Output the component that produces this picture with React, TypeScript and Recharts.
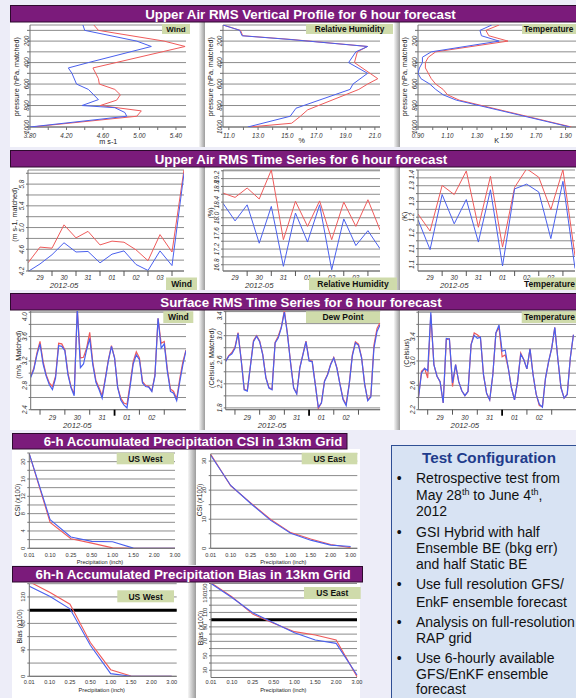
import React from 'react';
import { LineChart, Line, XAxis, YAxis, CartesianGrid, ScatterChart, Scatter, ReferenceLine } from 'recharts';

const FONT = '"Liberation Sans", Arial, sans-serif';
const RED = '#ef5b5b';
const BLUE = '#4a60ee';
const GRID = '#8c8c8c';
const AXIS = '#707070';
const TXT = '#333';
const PURPLE = '#7b1b7b';
const TAGBG = '#cfdbab';
const BG = '#ededf8';

// ---------------- data: vertical profiles (pressure hPa / RMS) ----------------
const profYTicks = [100, 200, 300, 400, 500, 600, 700, 800, 900, 1000];
const profYLabels = [200, 400, 600, 800, 1000];
const profYText = ['200', '400', '600', '800', '1000'];

const windProfRedP = [50, 100, 200, 250, 450, 550, 600, 650, 700, 750, 800, 850, 900, 1000];
const windProfRedV = [4.5, 4.55, 5.27, 5.5, 4.49, 4.55, 4.56, 4.73, 4.79, 4.75, 4.57, 5.02, 4.97, 3.82];
const windProfBlueP = [50, 100, 200, 250, 400, 450, 500, 600, 650, 745, 800, 820, 865, 900, 1000];
const windProfBlueV = [4.38, 4.4, 4.97, 5.13, 4.44, 4.22, 4.26, 4.31, 4.44, 4.55, 4.37, 4.73, 4.84, 4.86, 3.8];
const windProfXTicks = [3.8, 4.0, 4.2, 4.4, 4.6, 4.8, 5.0, 5.2, 5.4];
const windProfXLabels = [3.8, 4.2, 4.6, 5.0, 5.4];
const windProfXText = ['3.80', '4.20', '4.60', '5.00', '5.40'];

const rhProfRedP = [50, 100, 150, 185, 250, 300, 400, 550, 600, 650, 840, 900, 965, 1000];
const rhProfRedV = [10.6, 11.8, 11.95, 15.3, 20.5, 19.8, 19.6, 21.2, 20.5, 19.9, 16.4, 15.9, 15.3, 12.4];
const rhProfBlueP = [50, 100, 150, 185, 250, 300, 400, 500, 600, 650, 825, 900, 1000];
const rhProfBlueV = [10.6, 11.75, 11.9, 15.2, 20.5, 19.7, 19.2, 20.5, 19.5, 19.3, 15.6, 15.2, 12.3];
const rhProfXTicks = [11, 12, 13, 14, 15, 16, 17, 18, 19, 20, 21];
const rhProfXLabels = [11, 13, 15, 17, 19, 21];
const rhProfXText = ['11.0', '13.0', '15.0', '17.0', '19.0', '21.0'];

const tProfRedP = [50, 100, 150, 200, 300, 350, 400, 450, 550, 600, 650, 700, 750, 1000];
const tProfRedV = [1.45, 1.36, 1.38, 1.51, 1.02, 0.97, 0.95, 0.95, 0.99, 1.02, 1.07, 1.1, 1.18, 1.94];
const tProfBlueP = [50, 100, 150, 200, 300, 350, 400, 450, 500, 550, 600, 650, 700, 750, 1000];
const tProfBlueV = [1.4, 1.32, 1.33, 1.45, 0.99, 0.93, 0.93, 0.91, 0.9, 0.92, 0.98, 1.02, 1.07, 1.16, 1.93];
const tProfXTicks = [0.9, 1.0, 1.1, 1.2, 1.3, 1.4, 1.5, 1.6, 1.7, 1.8, 1.9];
const tProfXLabels = [0.9, 1.1, 1.3, 1.5, 1.7, 1.9];
const tProfXText = ['0.90', '1.10', '1.30', '1.50', '1.70', '1.90'];

// ---------------- data: upper air time series (hours since 2012-05-29 00Z) ----------------
const uaHours = [0, 12, 24, 36, 48, 60, 72, 84, 96, 108, 120, 132, 144, 156];
const uaTickMarks = [24, 48, 72, 96, 120, 144];
const uaLabelAt = [12, 36, 60, 84, 108, 132];
const uaDayText = ['29', '30', '31', '01', '02', '03'];
const monthText = '2012-05';

const windTsRed = [4.35, 4.64, 4.62, 5.05, 4.81, 4.93, 4.68, 4.75, 4.73, 4.59, 4.39, 4.87, 4.55, 6.07];
const windTsBlue = [4.19, 4.33, 4.5, 4.72, 4.55, 4.56, 4.35, 4.51, 4.57, 4.32, 4.21, 4.57, 4.3, 6.0];
const windTsYTicks = [4.2, 4.4, 4.6, 4.8, 5.0, 5.2, 5.4, 5.6, 5.8, 6.0];
const windTsYLabels = [4.2, 4.6, 5.0, 5.4, 5.8];
const windTsYText = ['4.2', '4.6', '5.0', '5.4', '5.8'];

const rhTsRed = [18.63, 18.52, 18.76, 18.48, 19.22, 17.44, 18.42, 17.78, 18.43, 17.44, 18.4, 17.78, 18.46, 17.69];
const rhTsBlue = [18.37, 17.92, 18.33, 17.35, 18.29, 16.76, 18.12, 17.38, 18.33, 16.67, 17.97, 17.29, 17.67, 17.21];
const rhTsYTicks = [16.8, 17.0, 17.2, 17.4, 17.6, 17.8, 18.0, 18.2, 18.4, 18.6, 18.8, 19.0, 19.2];
const rhTsYLabels = [16.8, 17.2, 17.6, 18.0, 18.4, 18.8, 19.2];
const rhTsYText = ['16.8', '17.2', '17.6', '18.0', '18.4', '18.8', '19.2'];

const tTsRed = [1.26, 1.206, 1.351, 1.322, 1.397, 1.218, 1.38, 1.155, 1.345, 1.404, 1.377, 1.274, 1.401, 1.127];
const tTsBlue = [1.242, 1.147, 1.322, 1.229, 1.306, 1.171, 1.337, 1.095, 1.34, 1.355, 1.33, 1.182, 1.364, 1.087];
const tTsYTicks = [1.1, 1.125, 1.15, 1.175, 1.2, 1.225, 1.25, 1.275, 1.3, 1.325, 1.35, 1.375, 1.4];
const tTsYLabels = [1.1, 1.15, 1.2, 1.25, 1.3, 1.35, 1.4];
const tTsYText = ['1.1', '1.1', '1.2', '1.2', '1.3', '1.3', '1.4'];

// ---------------- data: surface time series (hours since 2012-05-28 00Z, 3-hourly) ----------------
const sfcHours = [15, 18, 21, 24, 27, 30, 33, 36, 39, 42, 45, 48, 51, 54, 57, 60, 63, 66, 69, 72, 75, 78, 81, 84, 87, 90, 93, 96, 99, 102, 105, 108, 111, 114, 117, 120, 123, 126, 129, 132, 135, 138, 141, 144, 147, 150, 153, 156, 159, 162, 165];
const sfcTickMarks = [24, 48, 72, 96, 120, 144];
const sfcBoldMarks = [96];
const sfcLabelAt = [36, 60, 84, 108, 132];
const sfcDayText = ['29', '30', '31', '01', '02'];

const sfcWindRed = [2.95, 3.08, 3.33, 3.52, 3.19, 2.97, 2.84, 2.78, 2.95, 3.49, 3.48, 3.38, 3.0, 2.77, 2.66, 4.04, 3.25, 3.26, 3.41, 3.67, 3.17, 2.88, 2.76, 2.63, 2.91, 3.22, 3.45, 3.25, 2.77, 2.59, 2.51, 2.49, 2.82, 3.19, 3.35, 3.25, 2.86, 2.8, 2.78, 2.71, 2.97, 3.9, 3.49, 3.52, 3.06, 2.74, 2.7, 2.58, 2.91, 3.19, 3.38];
const sfcWindBlue = [2.93, 3.06, 3.3, 3.48, 3.15, 2.95, 2.81, 2.73, 2.92, 3.45, 3.44, 3.37, 2.97, 2.76, 2.63, 4.07, 3.09, 3.15, 3.38, 3.57, 3.14, 2.85, 2.73, 2.59, 2.89, 3.2, 3.44, 3.25, 2.76, 2.56, 2.48, 2.43, 2.78, 3.15, 3.3, 3.22, 2.84, 2.78, 2.77, 2.7, 2.95, 3.9, 3.41, 3.48, 3.03, 2.7, 2.67, 2.55, 2.86, 3.14, 3.37];
const sfcWindYTicks = [2.4, 2.6, 2.8, 3.0, 3.2, 3.4, 3.6, 3.8, 4.0];
const sfcWindYLabels = [2.4, 2.8, 3.2, 3.6, 4.0];
const sfcWindYText = ['2.4', '2.8', '3.2', '3.6', '4.0'];

const dewRed = [2.58, 2.67, 2.72, 2.81, 3.05, 2.61, 2.11, 2.09, 2.5, 2.92, 3.0, 2.91, 2.69, 2.31, 2.14, 2.11, 2.89, 2.99, 3.14, 3.42, 3.03, 2.56, 2.14, 2.04, 2.47, 2.69, 2.91, 2.59, 2.58, 2.2, 1.79, 1.89, 2.25, 2.36, 2.53, 2.64, 2.47, 2.2, 1.95, 1.86, 2.2, 2.68, 2.9, 2.86, 2.64, 2.2, 1.93, 2.0, 2.84, 3.12, 3.22];
const dewBlue = [2.57, 2.66, 2.7, 2.79, 3.04, 2.6, 2.1, 2.08, 2.49, 2.9, 2.99, 2.9, 2.68, 2.3, 2.13, 2.1, 2.88, 2.96, 3.13, 3.39, 3.02, 2.55, 2.13, 2.03, 2.46, 2.68, 2.9, 2.58, 2.57, 2.19, 1.81, 1.88, 2.24, 2.35, 2.52, 2.63, 2.46, 2.19, 1.94, 1.84, 2.19, 2.66, 2.88, 2.84, 2.63, 2.19, 1.92, 1.98, 2.79, 3.07, 3.18];
const dewYTicks = [1.8, 2.0, 2.2, 2.4, 2.6, 2.8, 3.0, 3.2, 3.4];
const dewYLabels = [1.8, 2.2, 2.6, 3.0, 3.4];
const dewYText = ['1.8', '2.2', '2.6', '3.0', '3.4'];

const sfcTRed = [2.39, 2.83, 2.88, 2.72, 3.76, 2.94, 2.75, 2.66, 2.31, 3.35, 3.36, 2.58, 2.94, 2.66, 2.51, 2.43, 2.5, 3.27, 3.46, 3.43, 3.39, 2.77, 2.47, 2.36, 2.77, 3.46, 3.55, 3.07, 3.1, 2.88, 2.56, 2.36, 2.66, 3.13, 3.02, 2.87, 3.2, 2.77, 2.45, 2.27, 2.25, 2.72, 2.99, 3.21, 3.55, 3.02, 2.56, 2.39, 2.45, 3.05, 3.43];
const sfcTBlue = [2.39, 2.8, 2.88, 2.84, 3.8, 2.94, 2.75, 2.66, 2.31, 3.37, 3.36, 2.64, 2.94, 2.66, 2.51, 2.43, 2.5, 3.27, 3.42, 3.37, 3.39, 2.77, 2.47, 2.36, 2.77, 3.46, 3.59, 3.16, 3.18, 2.88, 2.56, 2.36, 2.66, 3.11, 3.02, 2.87, 3.2, 2.77, 2.45, 2.29, 2.24, 2.72, 2.99, 3.21, 3.55, 3.02, 2.56, 2.39, 2.45, 3.05, 3.43];
const sfcTYTicks = [2.2, 2.4, 2.6, 2.8, 3.0, 3.2, 3.4, 3.6, 3.8];
const sfcTYLabels = [2.2, 2.6, 3.0, 3.4];
const sfcTYText = ['2.2', '2.6', '3.0', '3.4'];

// ---------------- data: precipitation scores ----------------
const precipCats = ['0.01', '0.10', '0.25', '0.50', '1.00', '1.50', '2.00', '3.00'];
const csiWestRed = [21.8, 6.0, 2.2, 1.2, 0.1, 0, 0, 0];
const csiWestBlue = [21.8, 6.6, 2.6, 1.6, 1.5, 0.05, 0, 0];
const csiEastRed = [32.3, 21.5, 15.6, 9.9, 5.4, 3.2, 1.3, 0.2];
const csiEastBlue = [32.0, 21.6, 15.4, 9.6, 5.2, 2.8, 1.1, 0.6];
const biasWestRed = [143, 127, 109, 51, 10, 0.5, 0, 0];
const biasWestBlue = [136, 121, 102, 47, 4, 0, 0, 0];
const biasEastRed = [151, 131.7, 107.7, 94.9, 83.4, 78.7, 71.8, 21.2];
const biasEastBlue = [150, 130.6, 109.5, 95.7, 81.9, 71.8, 67.2, 23.5];

const csiWestYTicks = [0, 2, 4, 6, 8, 10, 12, 14, 16, 18, 20, 22];
const csiWestYLabels = [0, 4, 8, 12, 16, 20];
const csiEastYTicks = [0, 5, 10, 15, 20, 25, 30];
const csiEastYLabels = [0, 10, 20, 30];
const biasWestYTicks = [0, 20, 40, 60, 80, 100, 120, 140];
const biasWestYLabels = [0, 40, 80, 120];
const biasEastYTicks = [30, 40, 50, 60, 70, 80, 90, 100, 110, 120, 130, 140, 150];
const biasEastYLabels = [30, 50, 70, 90, 110, 130, 150];
const perfectBias = 100;

// ---------------- helpers ----------------
const pairs = (ps: number[], vs: number[]) => ps.map((p, i) => ({ p, v: vs[i] }));
const rows = (ts: number[], r: number[], b: number[]) => ts.map((t, i) => ({ t, r: r[i], b: b[i] }));
const catRows = (r: number[], b: number[]) => precipCats.map((c, i) => ({ c, r: r[i], b: b[i] }));
const idx = (arr: number[], v: number) => arr.findIndex((a) => Math.abs(a - v) < 1e-6);

type Box = { x: number; y: number; w: number; h: number };
type Plot = { x0: number; y0: number; x1: number; y1: number };
function geom(b: Box, p: Plot) {
  return {
    style: { position: 'absolute', left: b.x, top: b.y } as React.CSSProperties,
    width: b.w,
    height: b.h,
    margin: { top: p.y0 - b.y, right: b.x + b.w - p.x1, left: 0, bottom: 0 },
    yw: p.x0 - b.x,
    xh: b.y + b.h - p.y1,
  };
}

// endVals: labels at the very top edge, anchored so they stay inside the plot
function makeYTick(labels: number[], texts: string[], off: number, size: number, italic = true, endVals: number[] = []) {
  return (p: any) => {
    const i = idx(labels, p.payload.value);
    if (i < 0) return <g />;
    const x = p.x + off;
    const y = p.y;
    const atTop = idx(endVals, p.payload.value) >= 0;
    return (
      <text x={x} y={y} transform={`rotate(-90 ${x} ${y})`} textAnchor={atTop ? 'end' : 'middle'} fontSize={size}
        fontStyle={italic ? 'italic' : 'normal'} fill={TXT} fontFamily={FONT}>{texts[i]}</text>
    );
  };
}

function makeXTick(labels: number[], texts: string[], dy: number, size: number) {
  return (p: any) => {
    const i = idx(labels, p.payload.value);
    if (i < 0) return <g />;
    return (
      <text x={p.x} y={p.y + dy} textAnchor="middle" fontSize={size} fontStyle="italic" fill={TXT} fontFamily={FONT}>{texts[i]}</text>
    );
  };
}

function makeCatTick(dy: number, size: number) {
  return (p: any) => (
    <text x={p.x} y={p.y + dy} textAnchor="middle" fontSize={size} fill={TXT} fontFamily={FONT}>{p.payload.value}</text>
  );
}

function makeTimeTick(marks: number[], bold: number[], labelAt: number[], texts: string[], yearAt: number, dy: number, dy2: number, markLen: number) {
  return (p: any) => {
    const v = p.payload.value;
    const els: any[] = [];
    if (idx(marks, v) >= 0) {
      const b = idx(bold, v) >= 0;
      els.push(<line key="m" x1={p.x} x2={p.x} y1={p.y} y2={p.y + markLen + (b ? 1 : 0)} stroke={b ? '#000' : '#555'} strokeWidth={b ? 1.8 : 1} />);
    }
    const i = idx(labelAt, v);
    if (i >= 0) {
      els.push(<text key="t" x={p.x} y={p.y + dy} textAnchor="middle" fontSize={6.5} fontStyle="italic" fill={TXT} fontFamily={FONT}>{texts[i]}</text>);
      if (Math.abs(v - yearAt) < 1e-6) {
        els.push(<text key="y" x={p.x} y={p.y + dy2} textAnchor="middle" fontSize={7.8} fontStyle="italic" fill={TXT} fontFamily={FONT}>{monthText}</text>);
      }
    }
    return <g>{els}</g>;
  };
}

const noShape = () => <g />;

function ProfileChart({ g, red, blue, xDomain, xTicks, xTick }: any) {
  return (
    <div style={g.style}>
      <ScatterChart width={g.width} height={g.height} margin={g.margin}>
        <CartesianGrid vertical={false} stroke={GRID} />
        <XAxis dataKey="v" type="number" domain={xDomain} ticks={xTicks} interval={0} allowDataOverflow height={g.xh}
          tickSize={3} tickMargin={0} tickLine={{ stroke: AXIS }} axisLine={{ stroke: AXIS }} tick={xTick} />
        <YAxis dataKey="p" type="number" domain={[50, 1000]} reversed ticks={profYTicks} interval={0} allowDataOverflow width={g.yw}
          tickSize={3} tickMargin={0} tickLine={{ stroke: AXIS }} axisLine={{ stroke: AXIS }}
          tick={makeYTick(profYLabels, profYText, 2.3, 6.3)} />
        <Scatter data={red} fill={RED} line={{ stroke: RED, strokeWidth: 1 }} shape={noShape} isAnimationActive={false} />
        <Scatter data={blue} fill={BLUE} line={{ stroke: BLUE, strokeWidth: 1 }} shape={noShape} isAnimationActive={false} />
      </ScatterChart>
    </div>
  );
}

function TimeChart({ g, data, xDomain, xTicks, timeTick, yDomain, yTicks, yTick, sw }: any) {
  return (
    <div style={g.style}>
      <LineChart width={g.width} height={g.height} data={data} margin={g.margin}>
        <CartesianGrid vertical={false} stroke={GRID} />
        <XAxis dataKey="t" type="number" domain={xDomain} ticks={xTicks} interval={0} allowDataOverflow height={g.xh}
          tickSize={0} tickMargin={0} tickLine={false} axisLine={{ stroke: AXIS }} tick={timeTick} />
        <YAxis type="number" domain={yDomain} ticks={yTicks} interval={0} allowDataOverflow width={g.yw}
          tickSize={2} tickMargin={0} tickLine={{ stroke: AXIS }} axisLine={{ stroke: AXIS }} tick={yTick} />
        <Line dataKey="r" stroke={RED} strokeWidth={sw} dot={false} isAnimationActive={false} />
        <Line dataKey="b" stroke={BLUE} strokeWidth={sw} dot={false} isAnimationActive={false} />
      </LineChart>
    </div>
  );
}

function PrecipChart({ g, data, yDomain, yTicks, yLabels, padR, refY, dy, endVals }: any) {
  return (
    <div style={g.style}>
      <LineChart width={g.width} height={g.height} data={data} margin={g.margin}>
        <CartesianGrid vertical={false} stroke={GRID} />
        <XAxis dataKey="c" type="category" interval={0} height={g.xh} padding={{ left: 0, right: padR }}
          tickSize={0} tickMargin={0} tickLine={false} axisLine={{ stroke: AXIS }} tick={makeCatTick(dy, 5.6)} />
        <YAxis type="number" domain={yDomain} ticks={yTicks} interval={0} allowDataOverflow width={g.yw}
          tickSize={2} tickMargin={0} tickLine={{ stroke: AXIS }} axisLine={{ stroke: AXIS }}
          tick={makeYTick(yLabels, yLabels.map(String), -2.3, 5.8, false, endVals || [])} />
        {refY != null && <ReferenceLine y={refY} stroke="#000" strokeWidth={3} />}
        <Line dataKey="r" stroke={RED} strokeWidth={1.1} dot={false} isAnimationActive={false} />
        <Line dataKey="b" stroke={BLUE} strokeWidth={1.1} dot={false} isAnimationActive={false} />
      </LineChart>
    </div>
  );
}

function Banner({ x, y, w, h, cx, text, size }: any) {
  return (
    <g>
      <rect x={x} y={y} width={w} height={h} fill={PURPLE} stroke="#2e0a2e" strokeWidth={1} />
      <text x={cx} y={y + h / 2 + 0.5} textAnchor="middle" dominantBaseline="central" fill="#fff" fontWeight="bold"
        fontSize={size} fontFamily={FONT}>{text}</text>
    </g>
  );
}

function Panel({ x, y, w, h }: any) {
  return <rect x={x} y={y} width={w} height={h} fill="#fff" />;
}
function Sep({ x, y, w, h }: any) {
  return <rect x={x} y={y} width={w} height={h} fill="url(#sepGrad)" />;
}
function Tag({ x, y, w, h, text, size, tx }: any) {
  return (
    <g>
      <rect x={x} y={y} width={w} height={h} fill={TAGBG} />
      <text x={tx != null ? tx : x + w / 2} y={y + h / 2 + 0.3} textAnchor="middle" dominantBaseline="central" fontWeight="bold"
        fontSize={size} fill="#111" fontFamily={FONT}>{text}</text>
    </g>
  );
}
function VT({ x, y, text, size }: any) {
  return (
    <text x={x} y={y} transform={`rotate(-90 ${x} ${y})`} textAnchor="middle" dominantBaseline="central"
      fontSize={size} fill="#222" fontFamily={FONT}>{text}</text>
  );
}
function HT({ x, y, text, size }: any) {
  return (
    <text x={x} y={y} textAnchor="middle" dominantBaseline="central" fontSize={size} fill="#222" fontFamily={FONT}>{text}</text>
  );
}

export default function App() {
  const gA1 = geom({ x: 10, y: 22, w: 189, h: 125 }, { x0: 30, y0: 25, x1: 186, y1: 127 });
  const gA2 = geom({ x: 205, y: 22, w: 189, h: 125 }, { x0: 223, y0: 25, x1: 380, y1: 127 });
  const gA3 = geom({ x: 400, y: 22, w: 176, h: 125 }, { x0: 418, y0: 25, x1: 576, y1: 127 });

  const gB1 = geom({ x: 10, y: 167, w: 189, h: 123 }, { x0: 28, y0: 170, x1: 184, y1: 271 });
  const gB2 = geom({ x: 205, y: 167, w: 189, h: 123 }, { x0: 223, y0: 170, x1: 380, y1: 271 });
  const gB3 = geom({ x: 400, y: 167, w: 176, h: 123 }, { x0: 418, y0: 170, x1: 575, y1: 271 });

  const gC1 = geom({ x: 10, y: 310, w: 189, h: 120 }, { x0: 30.7, y0: 311, x1: 186, y1: 409.7 });
  const gC2 = geom({ x: 205, y: 310, w: 189, h: 120 }, { x0: 225.7, y0: 311, x1: 380.1, y1: 409.7 });
  const gC3 = geom({ x: 400, y: 310, w: 176, h: 120 }, { x0: 418.4, y0: 311, x1: 576, y1: 409.7 });

  const gD1 = geom({ x: 12, y: 449, w: 176, h: 116 }, { x0: 29.3, y0: 453, x1: 175, y1: 548.3 });
  const gD2 = geom({ x: 196, y: 449, w: 168, h: 116 }, { x0: 210.7, y0: 453.8, x1: 357.3, y1: 548.3 });
  const gE1 = geom({ x: 12, y: 582, w: 176, h: 116 }, { x0: 29.3, y0: 583.7, x1: 176.7, y1: 676.3 });
  const gE2 = geom({ x: 196, y: 582, w: 170, h: 116 }, { x0: 211, y0: 583.5, x1: 357, y1: 677.5 });

  const uaTicks = [...uaTickMarks, ...uaLabelAt].sort((a, b) => a - b);
  const sfcTicks = [...sfcTickMarks, ...sfcLabelAt].sort((a, b) => a - b);
  const uaTick = makeTimeTick(uaTickMarks, [], uaLabelAt, uaDayText, 36, 8.5, 16.5, 5);
  const sfcTick = makeTimeTick(sfcTickMarks, sfcBoldMarks, sfcLabelAt, sfcDayText, 60, 10.5, 18, 5);

  return (
    <div style={{ position: 'absolute', left: 0, top: 0, width: 576, height: 698, overflow: 'hidden', background: BG }}>
      <svg width={576} height={698} style={{ position: 'absolute', left: 0, top: 0 }}>
        <defs>
          <linearGradient id="sepGrad" x1="0" x2="1" y1="0" y2="0">
            <stop offset="0" stopColor="#f6f6f6" />
            <stop offset="1" stopColor="#9c9c9c" />
          </linearGradient>
        </defs>
        <rect x={0} y={0} width={576} height={698} fill={BG} />
        {/* row 1 */}
        <Panel x={10} y={22} w={189} h={125} /><Sep x={199} y={22} w={6} h={125} />
        <Panel x={205} y={22} w={189} h={125} /><Sep x={394} y={22} w={6} h={125} />
        <Panel x={400} y={22} w={176} h={125} />
        {/* row 2 */}
        <Panel x={10} y={167} w={189} h={123} /><Sep x={199} y={167} w={6} h={123} />
        <Panel x={205} y={167} w={189} h={123} /><Sep x={394} y={167} w={6} h={123} />
        <Panel x={400} y={167} w={176} h={123} />
        {/* row 3 */}
        <Panel x={10} y={310} w={189} h={120} /><Sep x={199} y={310} w={6} h={120} />
        <Panel x={205} y={310} w={189} h={120} /><Sep x={394} y={310} w={6} h={120} />
        <Panel x={400} y={310} w={176} h={120} />
        {/* rows 4-5 */}
        <Panel x={12} y={449} w={176} h={116} /><Sep x={188} y={449} w={8} h={116} />
        <Panel x={196} y={449} w={164} h={116} />
        <Panel x={12} y={582} w={176} h={116} /><Sep x={188} y={582} w={8} h={116} />
        <Panel x={196} y={582} w={164} h={116} />

        <Banner x={10.5} y={5.5} w={570} h={16.5} cx={300.5} size={13.3} text="Upper Air RMS Vertical Profile for 6 hour forecast" />
        <Banner x={10.5} y={150.5} w={570} h={16.5} cx={301} size={13.3} text="Upper Air RMS Time Series for 6 hour forecast" />
        <Banner x={10.5} y={293.5} w={570} h={16.5} cx={301} size={13.3} text="Surface RMS Time Series for 6 hour forecast" />
        <Banner x={12.5} y={433.5} w={334.5} h={15.5} cx={193} size={13.2} text="6-h Accumulated Precipitation CSI in 13km Grid" />
        <Banner x={12.5} y={566.5} w={350} h={15.5} cx={193} size={13.3} text="6h-h Accumulated Precipitation Bias in 13km Grid" />

        <rect x={391.5} y={445.5} width={200} height={260} fill="#d8e3f3" stroke="#2f4f94" strokeWidth={1} />
      </svg>

      <ProfileChart g={gA1} red={pairs(windProfRedP, windProfRedV)} blue={pairs(windProfBlueP, windProfBlueV)}
        xDomain={[3.8, 5.51]} xTicks={windProfXTicks} xTick={makeXTick(windProfXLabels, windProfXText, 7.5, 6.3)} />
      <ProfileChart g={gA2} red={pairs(rhProfRedP, rhProfRedV)} blue={pairs(rhProfBlueP, rhProfBlueV)}
        xDomain={[10.6, 21.35]} xTicks={rhProfXTicks} xTick={makeXTick(rhProfXLabels, rhProfXText, 7.5, 6.3)} />
      <ProfileChart g={gA3} red={pairs(tProfRedP, tProfRedV)} blue={pairs(tProfBlueP, tProfBlueV)}
        xDomain={[0.9, 1.971]} xTicks={tProfXTicks} xTick={makeXTick(tProfXLabels, tProfXText, 7.5, 6.3)} />

      <TimeChart g={gB1} data={rows(uaHours, windTsRed, windTsBlue)} xDomain={[0, 156]} xTicks={uaTicks} timeTick={uaTick}
        yDomain={[4.2, 6.06]} yTicks={windTsYTicks} yTick={makeYTick(windTsYLabels, windTsYText, -2, 6.3)} sw={1} />
      <TimeChart g={gB2} data={rows(uaHours, rhTsRed, rhTsBlue)} xDomain={[0, 156]} xTicks={uaTicks} timeTick={uaTick}
        yDomain={[16.64, 19.22]} yTicks={rhTsYTicks} yTick={makeYTick(rhTsYLabels, rhTsYText, -2, 6.3, true, [19.2])} sw={1} />
      <TimeChart g={gB3} data={rows(uaHours, tTsRed, tTsBlue)} xDomain={[0, 156]} xTicks={uaTicks} timeTick={uaTick}
        yDomain={[1.079, 1.4]} yTicks={tTsYTicks} yTick={makeYTick(tTsYLabels, tTsYText, -2, 6.3, true, [1.4])} sw={1} />

      <TimeChart g={gC1} data={rows(sfcHours, sfcWindRed, sfcWindBlue)} xDomain={[15, 165]} xTicks={sfcTicks} timeTick={sfcTick}
        yDomain={[2.4, 4.02]} yTicks={sfcWindYTicks} yTick={makeYTick(sfcWindYLabels, sfcWindYText, -1.4, 6.3, true, [4.0])} sw={1.2} />
      <TimeChart g={gC2} data={rows(sfcHours, dewRed, dewBlue)} xDomain={[15, 165]} xTicks={sfcTicks} timeTick={sfcTick}
        yDomain={[1.77, 3.41]} yTicks={dewYTicks} yTick={makeYTick(dewYLabels, dewYText, -1.4, 6.3, true, [3.4])} sw={1.2} />
      <TimeChart g={gC3} data={rows(sfcHours, sfcTRed, sfcTBlue)} xDomain={[15, 167.5]} xTicks={sfcTicks} timeTick={sfcTick}
        yDomain={[2.2, 3.82]} yTicks={sfcTYTicks} yTick={makeYTick(sfcTYLabels, sfcTYText, -1.4, 6.3)} sw={1.2} />

      <PrecipChart g={gD1} data={catRows(csiWestRed, csiWestBlue)} yDomain={[0, 22]} yTicks={csiWestYTicks} yLabels={csiWestYLabels} padR={0} dy={9} />
      <PrecipChart g={gD2} data={catRows(csiEastRed, csiEastBlue)} yDomain={[0, 32.5]} yTicks={csiEastYTicks} yLabels={csiEastYLabels} padR={6.6} dy={9} />
      <PrecipChart g={gE1} data={catRows(biasWestRed, biasWestBlue)} yDomain={[0, 140]} yTicks={biasWestYTicks} yLabels={biasWestYLabels} padR={5} refY={perfectBias} dy={7.7} />
      <PrecipChart g={gE2} data={catRows(biasEastRed, biasEastBlue)} yDomain={[20, 150]} yTicks={biasEastYTicks} yLabels={biasEastYLabels} padR={0} refY={perfectBias} dy={6.5} endVals={[150]} />

      <svg width={576} height={698} style={{ position: 'absolute', left: 0, top: 0, pointerEvents: 'none' }}>
        {/* legend tags */}
        <Tag x={162} y={24} w={28} h={10} text="Wind" size={8} />
        <Tag x={306} y={24} w={87} h={10} text="Relative Humidity" size={8.3} />
        <Tag x={522} y={24} w={58} h={10} text="Temperature" size={8.3} tx={548.5} />
        <Tag x={166} y={277.5} w={31} h={12.5} text="Wind" size={8.5} />
        <Tag x={309} y={277.5} w={88} h={12.5} text="Relative Humidity" size={8.5} />
        <Tag x={530} y={277.5} w={58} h={12.5} text="Temperature" size={8.5} tx={549.5} />
        <Tag x={163.3} y={311.3} w={30} h={11.7} text="Wind" size={8.5} />
        <Tag x={306} y={311.3} w={74} h={11.7} text="Dew Point" size={8.5} />
        <Tag x={521.7} y={311.3} w={58} h={11.7} text="Temperature" size={8.5} tx={549.5} />
        <Tag x={116.7} y={452.7} w={57.3} h={11.6} text="US West" size={8.5} />
        <Tag x={301.7} y={452.7} w={55.6} h={11.6} text="US East" size={8.5} />
        <Tag x={117.3} y={590.3} w={56.7} h={12} text="US West" size={8.5} />
        <Tag x={304} y={587} w={56.7} h={12} text="US East" size={8.5} />

        {/* axis titles */}
        <VT x={16.7} y={76.7} text="pressure (hPa, matched)" size={7.2} />
        <VT x={211} y={76.7} text="pressure (hPa, matched)" size={7.2} />
        <VT x={405} y={76.7} text="pressure (hPa, matched)" size={7.2} />
        <HT x={108.3} y={141.7} text="m s-1" size={7.2} />
        <HT x={301.7} y={140.7} text="%" size={7.2} />
        <HT x={496.7} y={140.7} text="K" size={7.2} />
        <VT x={15} y={214.7} text="(m s-1, matched)" size={7.2} />
        <VT x={210} y={213} text="(%)" size={7.2} />
        <VT x={405} y={216.3} text="(K)" size={7.2} />
        <VT x={18.3} y={354.7} text="(m/s, Matched)" size={7.2} />
        <VT x={211.7} y={358} text="(Celsius, Matched)" size={7.2} />
        <VT x={406.7} y={353} text="(Celsius)" size={7.2} />
        <VT x={17.3} y={500} text="CSI (x100)" size={6.8} />
        <VT x={199.3} y={500} text="CSI (x100)" size={6.8} />
        <VT x={20} y={626.3} text="Bias (x100)" size={6.8} />
        <VT x={200.7} y={628} text="Bias (x100)" size={6.8} />
        <HT x={100} y={561.7} text="Precipitation (inch)" size={5.6} />
        <HT x={283.3} y={561.7} text="Precipitation (inch)" size={5.6} />
        <HT x={101.7} y={690.3} text="Precipitation (inch)" size={5.6} />
        <HT x={283.3} y={690.3} text="Precipitation (inch)" size={5.6} />

        {/* test configuration */}
        <g fontFamily={FONT}>
          <text x={489} y={463} textAnchor="middle" fontWeight="bold" fontSize={15.2} fill="#1f3c8c">Test Configuration</text>
          <g fontSize={14} fill="#111">
            <text x={396.7} y={483.3}>•</text>
            <text x={416} y={483.3}>Retrospective test from</text>
            <text x={416} y={500}>May 28<tspan fontSize={9} dy={-5}>th</tspan><tspan dy={5}> to June 4</tspan><tspan fontSize={9} dy={-5}>th</tspan><tspan dy={5}>,</tspan></text>
            <text x={416} y={516}>2012</text>
            <text x={396.7} y={536.7}>•</text>
            <text x={416} y={536.7}>GSI Hybrid with half</text>
            <text x={416} y={552.7}>Ensemble BE (bkg err)</text>
            <text x={416} y={569.3}>and half Static BE</text>
            <text x={396.7} y={589.3}>•</text>
            <text x={416} y={589.3}>Use full resolution GFS/</text>
            <text x={416} y={606.7}>EnkF ensemble forecast</text>
            <text x={396.7} y={626.7}>•</text>
            <text x={416} y={626.7}>Analysis on full-resolution</text>
            <text x={416} y={642.7}>RAP grid</text>
            <text x={396.7} y={663.3}>•</text>
            <text x={416} y={663.3}>Use 6-hourly available</text>
            <text x={416} y={679.3}>GFS/EnKF ensemble</text>
            <text x={416} y={694.3}>forecast</text>
          </g>
        </g>
      </svg>
    </div>
  );
}
